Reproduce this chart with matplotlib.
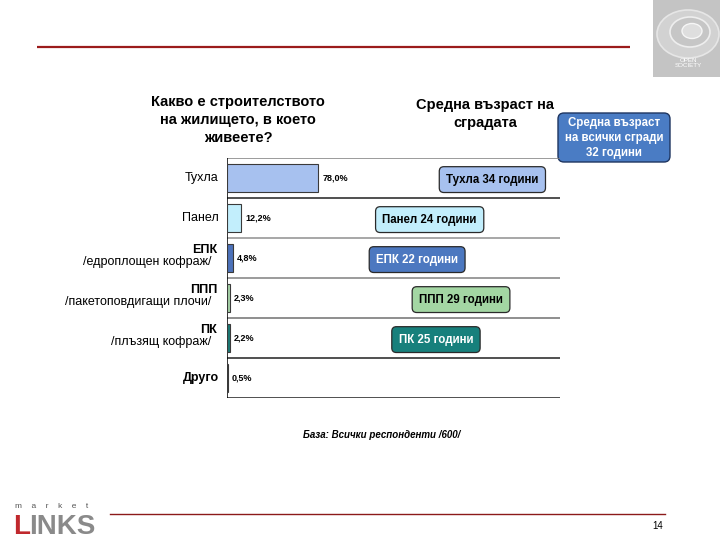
import matplotlib
matplotlib.use('Agg')
import matplotlib.pyplot as plt
import numpy as np
from matplotlib.patches import FancyBboxPatch, Rectangle, Ellipse

plt.rcParams['font.family'] = ['Liberation Sans', 'DejaVu Sans']

# ---- data ----
categories = ['Тухла', 'Панел', 'ЕПК', 'ППП', 'ПК', 'Друго']
subtitles = ['', '', '/едроплощен кофраж/', '/пакетоповдигащи плочи/', '/плъзящ кофраж/', '']
shares = [78.0, 12.2, 4.8, 2.3, 2.2, 0.5]
bar_colors = ['#a7c1ef', '#c2eefc', '#4c72ba', '#a6d3a8', '#1c7a76', '#ffffff']
age_categories = ['Тухла', 'Панел', 'ЕПК', 'ППП', 'ПК']
ages = [34, 24, 22, 29, 25]
age_colors = ['#a7c1ef', '#c2eefc', '#4c78c0', '#a3d6a3', '#17807c']
age_text_colors = ['black', 'black', 'white', 'black', 'white']
overall_age = 32
title_left = 'Какво е строителството\nна жилището, в което\nживеете?'
title_right = 'Средна възраст на\nсградата'
base_note = 'База: Всички респонденти /600/'
page_number = '14'

W, H = 720, 540
fig = plt.figure(figsize=(7.2, 5.4), dpi=100)

# decoration axes in pixel coordinates
deco = fig.add_axes([0, 0, 1, 1], zorder=0)
deco.set_xlim(0, W)
deco.set_ylim(H, 0)
deco.axis('off')

# top red rule
deco.plot([37, 630], [47, 47], color='#9b1b1b', lw=1.6, solid_capstyle='butt')
# top-right logo
deco.add_patch(Rectangle((653, 0), 67, 77, fc='#c4c4c4', ec='none'))
deco.add_patch(Ellipse((688, 34), 62, 48, fc='#d2d2d2', ec='#e6e6e6', lw=1.2))
deco.add_patch(Ellipse((690, 32), 40, 30, fc='#c6c6c6', ec='#eeeeee', lw=1.2))
deco.add_patch(Ellipse((692, 31), 20, 15, fc='#dedede', ec='#f6f6f6', lw=1))
deco.text(688, 63, 'OPEN\nSOCIETY', ha='center', va='center', fontsize=4.5,
          color='white', linespacing=1.0)

# titles
deco.text(238, 120, title_left, ha='center', va='center', fontsize=10.5,
          fontweight='bold', linespacing=1.4)
deco.text(485, 114, title_right, ha='center', va='center', fontsize=10.5,
          fontweight='bold', linespacing=1.45)

# overall age box
deco.add_patch(FancyBboxPatch((558, 113), 112, 49,
                              boxstyle='round,pad=0,rounding_size=6',
                              fc='#4a7cc4', ec='#1e3560', lw=1))
deco.text(614, 138, f'Средна възраст\nна всички сгради\n{overall_age} години',
          ha='center', va='center', fontsize=8.3, fontweight='bold',
          color='white', linespacing=1.3)

# base note
deco.text(382, 435, base_note, ha='center', va='center', fontsize=7,
          fontweight='bold', fontstyle='italic')

# bottom rule, page number, logo
deco.plot([110, 665], [514, 514], color='#8c1a1a', lw=1.0)
deco.text(658, 526, page_number, ha='center', va='center', fontsize=7)
deco.text(15, 507, 'm    a    r    k    e    t', ha='left', va='center', fontsize=6,
          color='#555555')
deco.text(13, 534, 'L', ha='left', va='baseline', fontsize=20, fontweight='bold',
          color='#c0282d')
deco.text(29, 534, 'INKS', ha='left', va='baseline', fontsize=20, fontweight='bold',
          color='#8a8a8a')

# ---- bar chart ----
x0, x1, ytop, ybot = 227, 560, 158, 398
ax = fig.add_axes([x0 / W, 1 - ybot / H, (x1 - x0) / W, (ybot - ytop) / H], zorder=2)
ax.patch.set_alpha(0)
n = len(categories)
y = np.arange(n)
ax.set_xlim(0, (x1 - x0) / 1.17)
ax.set_ylim(n - 0.5, -0.5)
ax.axis('off')

sep_colors = ['#808080', '#202020', '#909090', '#808080', '#707070', '#202020', '#202020']
for k, yy in enumerate(np.arange(-0.5, n)):
    ax.axhline(yy, color=sep_colors[k], lw=1.1)
ax.axvline(0, color='black', lw=1.1)

ax.barh(y, shares, height=0.7, color=bar_colors, edgecolor='#3a3a3a', lw=0.8, zorder=3)

for i, v in enumerate(shares):
    lab = f'{v:.1f}'.replace('.', ',') + '%'
    ax.annotate(lab, (v, i), xytext=(3, 0), textcoords='offset points',
                ha='left', va='center', fontsize=6.5, fontweight='bold')

for i, (c, s) in enumerate(zip(categories, subtitles)):
    if s:
        ax.annotate(c, (0, i), xytext=(-7, 6), textcoords='offset points',
                    ha='right', va='center', fontsize=9, fontweight='bold')
        ax.annotate(s, (0, i), xytext=(-11, -3), textcoords='offset points',
                    ha='right', va='center', fontsize=9)
    else:
        weight = 'bold' if c == 'Друго' else 'normal'
        ax.annotate(c, (0, i), xytext=(-6, 0), textcoords='offset points',
                    ha='right', va='center', fontsize=9, fontweight=weight)

# ---- age boxes on a year scale ----
ax2 = ax.twiny()
ax2.set_xlim((x0 - 279.2) / 6.27, (x1 - 279.2) / 6.27)
ax2.axis('off')
for i, (c, a, fc, tc) in enumerate(zip(age_categories, ages, age_colors, age_text_colors)):
    ax2.text(a, i + 0.04, f'{c} {a} години', ha='center', va='center',
             fontsize=8.3, fontweight='bold', color=tc, zorder=4,
             bbox=dict(boxstyle='round,pad=0.6,rounding_size=0.4', fc=fc,
                       ec='#2a2a2a', lw=0.9))

fig.savefig('out.png', dpi=100)
